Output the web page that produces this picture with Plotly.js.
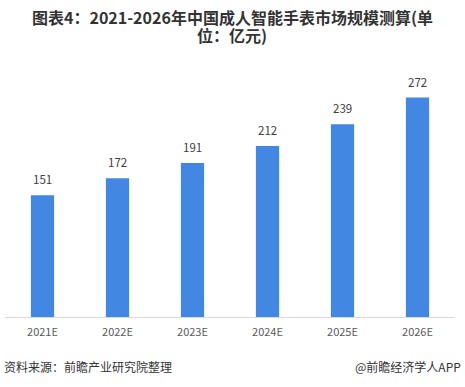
<!DOCTYPE html>
<html>
<head>
<meta charset="utf-8">
<script src="https://cdn.plot.ly/plotly-3.0.1.min.js"></script>
<style>
  html, body { margin: 0; padding: 0; background: #fff; }
  #chart { width: 465px; height: 387px; }
</style>
</head>
<body>
<div id="chart"></div>
<script>
// 中国成人智能手表市场规模（亿元）
const years = ['2021E', '2022E', '2023E', '2024E', '2025E', '2026E'];
const marketSize = [151, 172, 191, 212, 239, 272];

const titleLine1 = '<b>图表4：2021-2026年中国成人智能手表市场规模测算(单</b>';
const titleLine2 = '<b>位：亿元)</b>';
const sourceText = '资料来源：前瞻产业研究院整理';
const brandText = '@前瞻经济学人APP';

const cjk = '"Noto Sans CJK SC", "Microsoft YaHei", sans-serif';

const bars = {
  type: 'bar',
  x: years,
  y: marketSize,
  width: 0.31,
  marker: { color: '#4287e2' },
  hoverinfo: 'x+y'
};

// value labels sitting above each bar
const valueLabels = years.map((yr, i) => ({
  x: yr,
  y: marketSize[i],
  xref: 'x',
  yref: 'y',
  text: String(marketSize[i]),
  showarrow: false,
  yanchor: 'bottom',
  yshift: 6,
  font: { family: cjk, size: 11.5, color: '#404040' }
}));

const titleFont = { family: cjk, size: 16, color: '#333333' };

// two-line heading plus source / brand footer
const extras = [
  {
    xref: 'paper', yref: 'paper',
    x: 0.505, y: 1.2397,
    xanchor: 'center', yanchor: 'middle',
    text: titleLine1, showarrow: false,
    font: titleFont
  },
  {
    xref: 'paper', yref: 'paper',
    x: 0.505, y: 1.1653,
    xanchor: 'center', yanchor: 'middle',
    text: titleLine2, showarrow: false,
    font: titleFont
  },
  {
    xref: 'paper', yref: 'paper',
    x: -0.007, y: -0.2025,
    xanchor: 'left', yanchor: 'middle',
    text: sourceText, showarrow: false,
    font: { family: cjk, size: 12, color: '#333333' }
  },
  {
    xref: 'paper', yref: 'paper',
    x: 1.018, y: -0.2025,
    xanchor: 'right', yanchor: 'middle',
    text: brandText, showarrow: false,
    font: { family: cjk, size: 12, color: '#333333' }
  }
];

const layout = {
  width: 465,
  height: 387,
  margin: { l: 5, r: 10, t: 75, b: 70 },
  paper_bgcolor: '#ffffff',
  plot_bgcolor: '#ffffff',
  showlegend: false,
  xaxis: {
    type: 'category',
    showline: true,
    linecolor: '#d9d9d9',
    linewidth: 1,
    ticks: '',
    ticklabelstandoff: 5,
    showgrid: false,
    zeroline: false,
    tickfont: { family: cjk, size: 11, color: '#595959' },
    fixedrange: true
  },
  yaxis: {
    range: [0, 300],
    visible: false,
    showgrid: false,
    zeroline: false,
    fixedrange: true
  },
  annotations: valueLabels.concat(extras)
};

Plotly.newPlot('chart', [bars], layout, { displayModeBar: false, staticPlot: true });
</script>
</body>
</html>
